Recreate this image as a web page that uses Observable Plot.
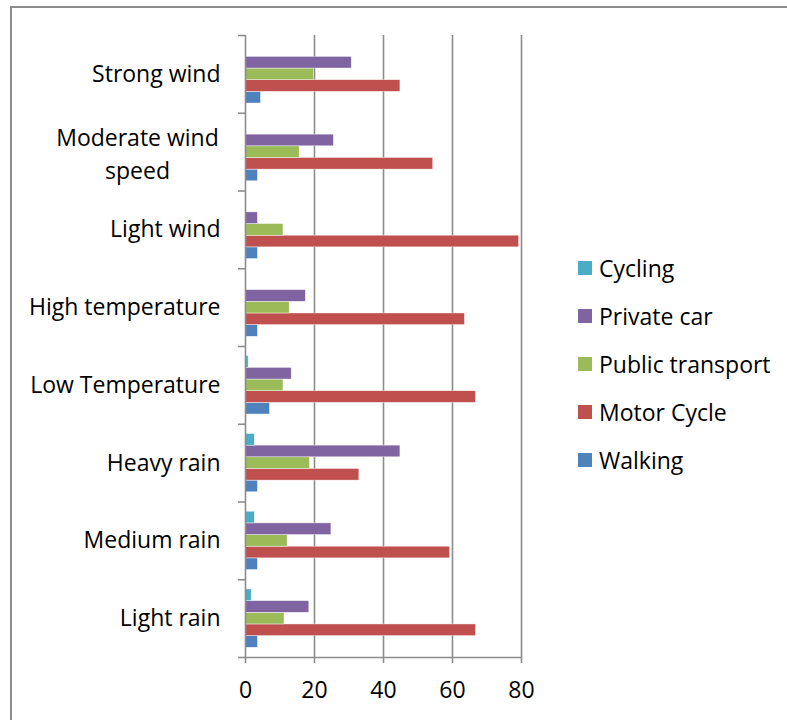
<!DOCTYPE html>
<html><head><meta charset="utf-8">
<script src="https://cdn.jsdelivr.net/npm/d3@7"></script>
<script src="https://cdn.jsdelivr.net/npm/@observablehq/plot@0.6"></script>
<style>
body{margin:0;background:#fff;font-family:"Open Sans", sans-serif;}
#wrap{position:relative;width:787px;height:720px;overflow:hidden;}
#frame{position:absolute;left:10px;top:6px;right:-5px;bottom:-5px;border-top:2px solid #8c8c8c;border-left:2px solid #8c8c8c;}
#chart{position:absolute;left:0;top:0;}
#legend{position:absolute;left:578px;top:244px;}
.item{display:flex;align-items:center;height:48px;font-size:23px;color:#000;}
.sw{width:14px;height:14px;margin-right:7px;}
</style></head><body><div id="wrap"><div id="frame"></div><div id="chart"></div><div id="legend"></div></div>
<script>
const categories = ["Light rain","Medium rain","Heavy rain","Low Temperature","High temperature","Light wind","Moderate wind speed","Strong wind"];
const categoryLabels = ["Light rain","Medium rain","Heavy rain","Low Temperature","High temperature","Light wind","Moderate wind\nspeed","Strong wind"];
const modes = ["Walking","Motor Cycle","Public transport","Private car","Cycling"];
const walking = [3.6,3.6,3.6,7.1,3.6,3.6,3.6,4.5];
const motorCycle = [66.8,59.3,33.0,66.8,63.6,79.3,54.4,44.9];
const publicTransport = [11.3,12.2,18.7,11.0,12.8,11.0,15.7,19.9];
const privateCar = [18.5,24.9,44.9,13.4,17.5,3.6,25.6,30.8];
const cycling = [1.8,2.7,2.7,0.9,0,0,0,0];
const xTicks = [0,20,40,60,80];
const colors = ["#4F81BD","#C0504D","#9BBB59","#8064A2","#4BACC6"];

const series = [walking, motorCycle, publicTransport, privateCar, cycling];
const pad = 0.125, bh = (1 - 2*pad) / modes.length;
const rows = [];
categories.forEach((c, i) => {
  modes.forEach((m, j) => {
    const y1 = i + pad + bh*j;
    rows.push({category: c, mode: m, value: series[j][i], y1, y2: y1 + bh});
  });
});
const labelRows = categoryLabels.map((t, i) => ({t, i}));
const gray = "#8c8c8c";
const font = "'Open Sans', sans-serif";

const chart = Plot.plot({
  width: 787, height: 720,
  marginLeft: 245, marginRight: 266, marginTop: 35, marginBottom: 63,
  style: {fontFamily: font, fontSize: "23px", color: "#000", background: "transparent", overflow: "visible"},
  x: {domain: [0, 80]},
  y: {domain: [0, categories.length]},
  color: {domain: modes, range: colors},
  marks: [
    Plot.ruleX(xTicks.slice(1), {stroke: gray, strokeWidth: 1.6, strokeOpacity: 1}),
    Plot.rect(rows.filter(d => d.value > 0), {x1: 0, x2: "value", y1: "y1", y2: "y2", fill: "mode", stroke: "white", strokeWidth: 0.6, strokeOpacity: 0.7}),
    Plot.ruleX([0], {stroke: gray, strokeWidth: 1.6, strokeOpacity: 1}),
    Plot.ruleY([0], {stroke: gray, strokeWidth: 1.6, strokeOpacity: 1}),
    Plot.axisY({ticks: d3.range(categories.length + 1), tickSize: 7, tickFormat: () => "", stroke: gray, strokeWidth: 1.6, strokeOpacity: 1, label: null}),
    Plot.axisX({ticks: xTicks, tickSize: 6, tickPadding: 18, stroke: gray, strokeWidth: 1.6, strokeOpacity: 1, label: null, fontSize: 23, fill: "#000"}),
    Plot.text(labelRows.filter(d => !d.t.includes("\n")), {x: 0, y: d => d.i + 0.5, text: "t", textAnchor: "end", dx: -25, fontSize: 23, fill: "#000"}),
    Plot.text(labelRows.filter(d => d.t.includes("\n")), {x: 0, y: d => d.i + 0.5, text: "t", textAnchor: "middle", dx: -108, fontSize: 23, fill: "#000", lineHeight: 1.4})
  ]
});
document.getElementById("chart").appendChild(chart);

const legend = document.getElementById("legend");
modes.slice().reverse().forEach(m => {
  const it = document.createElement("div");
  it.className = "item";
  const sw = document.createElement("span");
  sw.className = "sw";
  sw.style.background = colors[modes.indexOf(m)];
  const tx = document.createElement("span");
  tx.textContent = m;
  it.appendChild(sw); it.appendChild(tx);
  legend.appendChild(it);
});
</script></body></html>
